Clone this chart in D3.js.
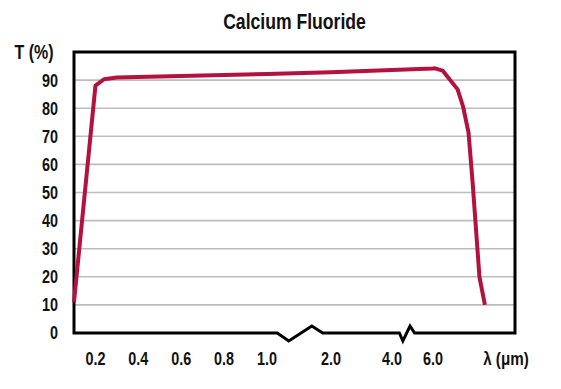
<!DOCTYPE html>
<html>
<head>
<meta charset="utf-8">
<script src="https://cdn.jsdelivr.net/npm/d3@7"></script>
<style>
  body { margin: 0; background: #fff; }
  text { font-family: "Liberation Sans", Arial, sans-serif; font-weight: bold; fill: #111; }
</style>
</head>
<body>
<div id="chart"></div>
<script>
// transmission curve, wavelength in um vs T in %
var wavelength = [0.1, 0.2, 0.24, 0.3, 0.5, 1.0, 2.0, 4.0, 6.0, 6.15, 6.7, 7.8, 8.2, 8.6, 8.9, 9.4, 9.8];
var transmission = [11, 88, 90.3, 90.9, 91.3, 92.2, 92.8, 93.6, 94.1, 94.2, 93.4, 86.7, 80.6, 71.3, 53.5, 19.9, 10];

var xTicks = [0.2, 0.4, 0.6, 0.8, 1.0, 2.0, 4.0, 6.0];
var yTicks = [0, 10, 20, 30, 40, 50, 60, 70, 80, 90];

// axis breaks (start, low, high, end) in um
var breaks = [[1.16, 1.34, 1.70, 1.87], [4.36, 4.53, 4.88, 5.10]];

var svgWidth = 561, svgHeight = 389;
var margin = { top: 52, right: 46, bottom: 56, left: 74 };
var chart_width = svgWidth - margin.left - margin.right;
var chart_height = svgHeight - margin.top - margin.bottom;

// narrow look: squeeze text horizontally
var squeeze = 0.8;
function place(px, py) {
    return `translate(${px}, ${py}) scale(${squeeze}, 1)`;
}

var svg = d3.select("#chart").append("svg")
    .attr("width", svgWidth)
    .attr("height", svgHeight);

var g = svg.append("g")
    .attr("transform", `translate(${margin.left}, ${margin.top})`);

// broken scale: linear pieces between 0.1-1, 1-2, 2-4, 4-6, 6-12
var x = d3.scaleLinear()
    .domain([0.1, 1.0, 2.0, 4.0, 6.0, 12.0])
    .range([0, 193, 257, 318, 359, chart_width]);

var y = d3.scaleLinear()
    .domain([0, 100])
    .range([chart_height, 0]);

// gridlines
g.selectAll(".grid")
    .data(yTicks.filter(d => d > 0))
    .enter()
    .append("line")
    .attr("x1", 0)
    .attr("x2", chart_width)
    .attr("y1", d => y(d))
    .attr("y2", d => y(d))
    .attr("stroke", "#bdbdbd")
    .attr("stroke-width", 1.6);

// y tick labels
g.selectAll(".ylab")
    .data(yTicks)
    .enter()
    .append("text")
    .attr("transform", d => place(-16, y(d)))
    .attr("dy", "0.36em")
    .attr("text-anchor", "end")
    .attr("font-size", "18px")
    .text(d => d);

// x tick labels
g.selectAll(".xlab")
    .data(xTicks)
    .enter()
    .append("text")
    .attr("transform", d => place(x(d), chart_height + 32))
    .attr("text-anchor", "middle")
    .attr("font-size", "18px")
    .text(d => d.toFixed(1));

// frame with zigzag bottom
var dip = 8, peak = -7;
var pts = [[0, 0], [0, chart_height]];
breaks.forEach(function (b) {
    pts.push([x(b[0]), chart_height]);
    pts.push([x(b[1]), chart_height + dip]);
    pts.push([x(b[2]), chart_height + peak]);
    pts.push([x(b[3]), chart_height]);
});
pts.push([chart_width, chart_height]);
pts.push([chart_width, 0]);

g.append("path")
    .attr("d", d3.line()(pts) + "Z")
    .attr("fill", "none")
    .attr("stroke", "#000")
    .attr("stroke-width", 3)
    .attr("stroke-linejoin", "miter");

// curve
var curve = wavelength.map((w, i) => [w, transmission[i]]);
g.append("path")
    .datum(curve)
    .attr("d", d3.line().x(d => x(d[0])).y(d => y(d[1])))
    .attr("fill", "none")
    .attr("stroke", "#b3123f")
    .attr("stroke-width", 4)
    .attr("stroke-linejoin", "round");

// titles
svg.append("text")
    .attr("transform", place(margin.left + chart_width / 2, 29))
    .attr("text-anchor", "middle")
    .attr("font-size", "22px")
    .text("Calcium Fluoride");

svg.append("text")
    .attr("transform", place(34, 59))
    .attr("text-anchor", "middle")
    .attr("font-size", "20px")
    .text("T (%)");

svg.append("text")
    .attr("transform", place(506, margin.top + chart_height + 32))
    .attr("text-anchor", "middle")
    .attr("font-size", "19px")
    .text("λ (μm)");
</script>
</body>
</html>
